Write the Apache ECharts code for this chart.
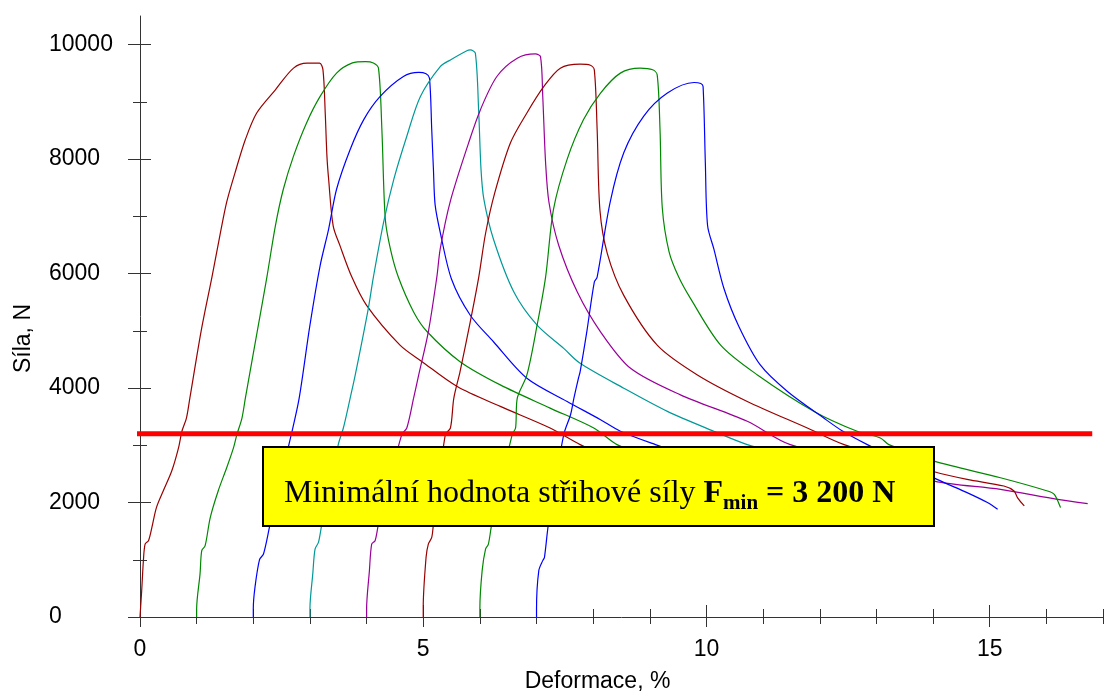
<!DOCTYPE html>
<html>
<head>
<meta charset="utf-8">
<script src="https://cdn.jsdelivr.net/npm/echarts@6/dist/echarts.min.js"></script>
<style>
  html, body { margin: 0; padding: 0; background: #fff; }
  #main { width: 1107px; height: 698px; }
</style>
</head>
<body>
<div id="main"></div>
<script>
// deformace [%], sila [N] - one array per sample, each shifted by 1 %
var curve1 = [[0,0],[0.03,464],[0.06,985],[0.09,1274],[0.15,1333],[0.21,1564],[0.29,1912],[0.41,2202],[0.56,2550],[0.68,2955],[0.74,3245],[0.82,3476],[0.88,3823],[1.08,5000],[1.27,5939],[1.41,6662],[1.53,7247],[1.68,7769],[1.86,8342],[2.06,8806],[2.39,9211],[2.71,9589],[2.95,9675],[3.17,9675],[3.23,9559],[3.27,8806],[3.30,8052],[3.33,7647],[3.41,6835],[3.53,6488],[3.74,5939],[4.00,5445],[4.59,4750],[4.98,4461],[5.60,4026],[6.36,3679],[7.24,3302],[7.77,3012],[8.2,2820]];
var curve2 = [[1,0],[1,144],[1.06,753],[1.09,1159],[1.15,1246],[1.24,1738],[1.38,2202],[1.53,2607],[1.65,2955],[1.71,3186],[1.80,3476],[1.86,3823],[2.05,4880],[2.24,5939],[2.39,6835],[2.53,7473],[2.71,8052],[2.94,8632],[3.18,9095],[3.47,9502],[3.75,9680],[3.98,9703],[4.12,9680],[4.21,9589],[4.27,8516],[4.33,6952],[4.42,6431],[4.56,5939],[4.83,5330],[5.07,4983],[5.65,4461],[6.36,4055],[7.24,3650],[8.01,3302],[8.42,3012],[8.9,2850]];
var curve3 = [[2,0],[2,144],[2.03,521],[2.11,1003],[2.18,1100],[2.30,1634],[2.67,3185],[2.81,3823],[3.00,5098],[3.18,6140],[3.33,6778],[3.47,7473],[3.71,8168],[3.95,8690],[4.24,9095],[4.65,9443],[4.92,9514],[5.05,9490],[5.11,9415],[5.15,8516],[5.18,7821],[5.21,7200],[5.30,6721],[5.50,5900],[5.83,5272],[6.24,4809],[6.83,4171],[7.54,3766],[8.13,3447],[8.48,3245],[9.10,3012],[9.6,2850]];
var curve4 = [[3,0],[3,144],[3.05,753],[3.09,1187],[3.15,1303],[3.21,1622],[3.50,3012],[3.59,3302],[3.71,3823],[3.80,4229],[4.03,5388],[4.12,5939],[4.30,6895],[4.48,7647],[4.71,8400],[4.95,9095],[5.30,9617],[5.48,9733],[5.77,9894],[5.83,9907],[5.92,9850],[5.98,8806],[6.02,7821],[6.07,7300],[6.24,6600],[6.60,5678],[7.01,5098],[7.48,4693],[7.77,4432],[8.54,3997],[9.31,3592],[10.13,3245],[10.72,3012],[11.3,2860]];
var curve5 = [[4,0],[4,130],[4.05,811],[4.09,1274],[4.15,1333],[4.21,1622],[4.62,3186],[4.71,3302],[4.83,3823],[4.92,4229],[5.09,4983],[5.24,5939],[5.30,6431],[5.48,7270],[5.80,8280],[6.01,8864],[6.30,9443],[6.66,9762],[6.98,9837],[7.07,9790],[7.11,9095],[7.16,7937],[7.22,7242],[7.39,6500],[7.72,5678],[8.13,4983],[8.66,4345],[9.54,3881],[10.72,3419],[11.48,3012],[14.02,2375],[15.19,2230],[16.20,2056],[16.73,1981]];
var curve6 = [[5,0],[5,174],[5.05,1043],[5.09,1274],[5.15,1390],[5.18,1622],[5.39,3186],[5.48,3302],[5.54,3823],[5.65,4288],[5.83,5157],[5.98,5939],[6.10,6700],[6.26,7400],[6.54,8285],[6.83,8806],[7.13,9269],[7.42,9589],[7.77,9658],[7.95,9640],[8.02,9559],[8.07,8516],[8.12,7100],[8.25,6350],[8.54,5619],[9.13,4750],[9.84,4229],[10.72,3766],[11.78,3302],[12.43,3012],[14.02,2537],[14.60,2404],[15.25,2288],[15.43,2202],[15.49,2086],[15.61,1941]];
var curve7 = [[6,0],[6,150],[6.04,811],[6.10,1187],[6.15,1274],[6.21,1622],[6.57,3186],[6.63,3302],[6.66,3823],[6.83,4229],[7.01,5098],[7.16,5939],[7.30,7126],[7.54,7995],[7.83,8690],[8.13,9154],[8.48,9502],[8.83,9589],[9.05,9560],[9.13,9472],[9.18,8516],[9.22,7150],[9.34,6380],[9.51,5939],[9.72,5562],[10.25,4750],[10.90,4229],[11.90,3592],[12.66,3245],[13.07,3128],[13.22,3012],[14.02,2723],[15.19,2433],[16.02,2202],[16.14,2143],[16.25,1912]];
var curve8 = [[7,0],[7,144],[7.04,811],[7.11,985],[7.14,1043],[7.21,1622],[7.48,3186],[7.60,3534],[7.66,3823],[7.74,4171],[7.77,4288],[7.89,5000],[8.02,5852],[8.07,5939],[8.30,7250],[8.54,8111],[8.89,8748],[9.31,9154],[9.78,9338],[9.90,9320],[9.94,9269],[9.98,7937],[10.02,6835],[10.13,6431],[10.31,5735],[10.57,5080],[10.95,4403],[11.43,3940],[12.07,3476],[12.40,3250],[12.84,3012],[14.07,2404],[14.60,2173],[14.96,1999],[15.14,1882]];

var curves = [curve1, curve2, curve3, curve4, curve5, curve6, curve7, curve8];
var curveColors = ['#990000', '#008800', '#0000ff', '#009999', '#990099', '#990000', '#008800', '#0000ff'];

var fMin = 3200;
var fMinLine = [[-0.07, fMin], [16.81, fMin]];

var xMajor = [0, 5, 10, 15];
var xMinor = [1, 2, 3, 4, 6, 7, 8, 9, 11, 12, 13, 14, 16, 17];
var yMajor = [0, 2000, 4000, 6000, 8000, 10000];
var yMinor = [1000, 3000, 5000, 7000, 9000];

var axisColor = '#333';
var font = 'Arial, "Liberation Sans", sans-serif';

// ticks cross the axis line, so every tick set is drawn by an axis outside + one inside
let xAx = (ticks, len, inside, main) => ({
  type: 'value', position: 'bottom', min: 0, max: 17,
  name: main ? 'Deformace, %' : '',
  nameLocation: 'middle', nameGap: 53,
  nameTextStyle: { fontFamily: font, fontSize: 23, color: '#000', padding: [0, 48, 0, 0] },
  axisLine: { show: main, onZero: false, lineStyle: { color: axisColor, width: 1 } },
  axisTick: { show: true, inside: inside, length: len, customValues: ticks, lineStyle: { color: axisColor } },
  axisLabel: { show: main, customValues: xMajor, margin: 21, fontFamily: font, fontSize: 23, color: '#000',
    formatter: v => String(v) },
  splitLine: { show: false }
});
let yAx = (ticks, len, inside, main) => ({
  type: 'value', position: 'left', min: 0, max: 10500,
  name: main ? 'Síla, N' : '',
  nameLocation: 'middle', nameGap: 105,
  nameTextStyle: { fontFamily: font, fontSize: 23, color: '#000', padding: [0, 44, 0, 0] },
  axisLine: { show: main, onZero: false, lineStyle: { color: axisColor, width: 1 } },
  axisTick: { show: true, inside: inside, length: len, customValues: ticks, lineStyle: { color: axisColor } },
  axisLabel: { show: main, customValues: yMajor, align: 'left', margin: 91, fontFamily: font, fontSize: 23, color: '#000',
    formatter: v => String(v) },
  splitLine: { show: false }
});

var series = curves.map((c, i) => ({
  type: 'line', data: c, xAxisIndex: 0, yAxisIndex: 0,
  symbol: 'none', z: 2, smooth: 0.3,
  lineStyle: { color: curveColors[i], width: 1.2 }
}));
series.push({
  type: 'line', data: fMinLine, xAxisIndex: 0, yAxisIndex: 0,
  symbol: 'none', clip: false, z: 5,
  lineStyle: { color: '#ff0000', width: 5 }
});

var myChart = echarts.init(document.getElementById('main'));
myChart.setOption({
  animation: false,
  backgroundColor: '#fff',
  grid: { left: 140, right: 4, top: 16, bottom: 78 },
  xAxis: [
    xAx(xMajor, 10, false, true),
    xAx(xMajor, 12, true, false),
    xAx(xMinor, 7, false, false),
    xAx(xMinor, 8, true, false)
  ],
  yAxis: [
    yAx(yMajor, 12, false, true),
    yAx(yMajor, 11, true, false),
    yAx(yMinor, 7, false, false),
    yAx(yMinor, 7, true, false)
  ],
  series: series,
  graphic: [
    {
      type: 'rect', z: 100,
      shape: { x: 263, y: 447, width: 671, height: 79 },
      style: { fill: '#ffff00', stroke: '#000', lineWidth: 2 }
    },
    {
      type: 'text', z: 101, x: 284, y: 494,
      style: {
        text: '{n|Minimální hodnota střihové síly }{b|F}{s|min}{b| = 3 200 N}',
        align: 'left', verticalAlign: 'middle',
        rich: {
          n: { fontFamily: '"Liberation Serif", "Times New Roman", serif', fontSize: 32, lineHeight: 40, fill: '#000' },
          b: { fontFamily: '"Liberation Serif", "Times New Roman", serif', fontSize: 32, fontWeight: 'bold', lineHeight: 40, fill: '#000' },
          s: { fontFamily: '"Liberation Serif", "Times New Roman", serif', fontSize: 21, fontWeight: 'bold', lineHeight: 24, verticalAlign: 'bottom', fill: '#000' }
        }
      }
    }
  ]
});
</script>
</body>
</html>
